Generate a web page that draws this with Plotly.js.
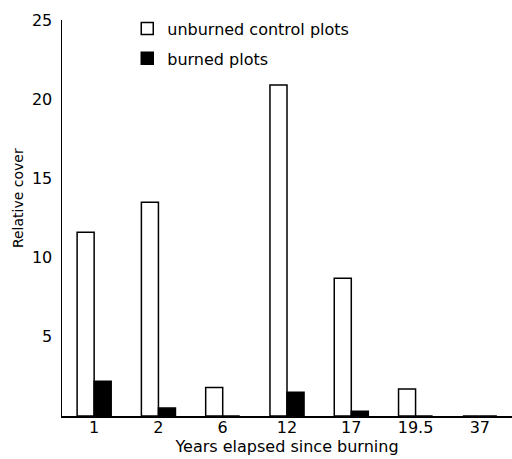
<!DOCTYPE html>
<html>
<head>
<meta charset="utf-8">
<script src="https://cdn.plot.ly/plotly-3.0.1.min.js"></script>
<style>html,body{margin:0;padding:0;background:#fff;}#chart{width:512px;height:459px;}</style>
</head>
<body>
<div id="chart"></div>
<script>
const years = ["1", "2", "6", "12", "17", "19.5", "37"];
const unburned = [11.6, 13.5, 1.8, 20.9, 8.7, 1.7, 0];
const burned = [2.2, 0.5, 0, 1.5, 0.3, 0, 0];
const yTicks = [5, 10, 15, 20, 25];

const font = {family: "DejaVu Sans, Arial, sans-serif", size: 16, color: "#000"};

const traces = [
  {type: "bar", name: "unburned control plots", x: years, y: unburned,
   marker: {color: "#fff", line: {color: "#000", width: 1.5}}, legend: "legend"},
  {type: "bar", name: "burned plots", x: years, y: burned,
   marker: {color: "#000", line: {color: "#000", width: 1.5}}, legend: "legend2"}
];

const layout = {
  width: 512, height: 459,
  margin: {l: 62, r: 0, t: 20, b: 43},
  paper_bgcolor: "#fff", plot_bgcolor: "#fff",
  font: font,
  barmode: "group", bargap: 0.47, bargroupgap: 0,
  showlegend: true,
  legend: {x: 0.145, y: 1.021, xanchor: "left", yanchor: "top",
           font: {family: font.family, size: 16, color: "#000"}, bgcolor: "rgba(0,0,0,0)", itemwidth: 30},
  legend2: {x: 0.145, y: 0.946, xanchor: "left", yanchor: "top",
           font: {family: font.family, size: 16, color: "#000"}, bgcolor: "rgba(0,0,0,0)", itemwidth: 30},
  xaxis: {type: "category", showline: true, linecolor: "#000", linewidth: 1.5, ticks: "",
          showgrid: false, zeroline: false, tickfont: font, ticklabelstandoff: -4,
          title: {text: "Years elapsed since burning", font: font, standoff: 2}},
  yaxis: {range: [0, 25], tickvals: yTicks, ticktext: yTicks.map(String), showline: true,
          linecolor: "#000", linewidth: 1.5, ticks: "", showgrid: false, zeroline: false,
          tickfont: font, ticklabelstandoff: 5},
  annotations: [{text: "Relative cover", xref: "paper", yref: "paper", x: -0.098, y: 0.55,
                 textangle: -90, showarrow: false, font: {family: font.family, size: 14, color: "#000"},
                 xanchor: "center", yanchor: "middle"}]
};

Plotly.newPlot("chart", traces, layout, {displayModeBar: false, staticPlot: true});
</script>
</body>
</html>
